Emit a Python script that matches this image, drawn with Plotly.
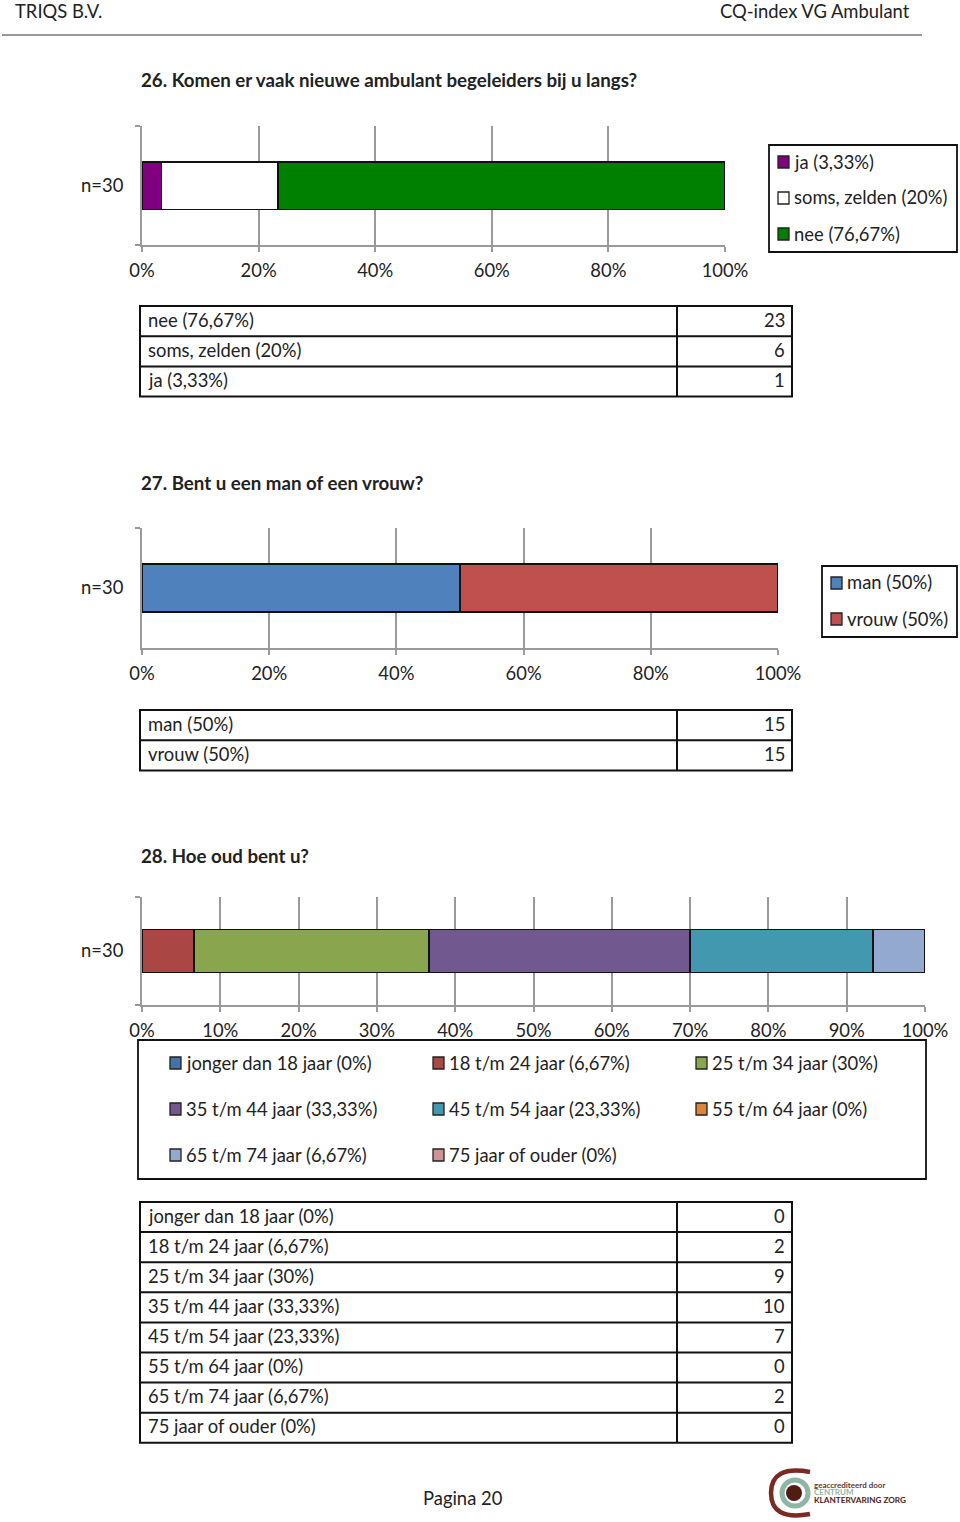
import plotly.graph_objects as go

W, H = 960, 1522
FONT = "Lato"
INK = "#222222"
BASE = 18.4
BOLD = 18.7
GRID = "#9a9a9a"

n_label = "n=30"

q26_title = "26. Komen er vaak nieuwe ambulant begeleiders bij u langs?"
q26_names = ["ja (3,33%)", "soms, zelden (20%)", "nee (76,67%)"]
q26_pct = [3.33, 20, 76.67]
q26_colors = ["#800080", "#ffffff", "#008000"]
q26_table = ["nee (76,67%)", "soms, zelden (20%)", "ja (3,33%)"]
q26_counts = [23, 6, 1]
q26_ticks = [0, 20, 40, 60, 80, 100]

q27_title = "27. Bent u een man of een vrouw?"
q27_names = ["man (50%)", "vrouw (50%)"]
q27_pct = [50, 50]
q27_colors = ["#4f81bd", "#c0504d"]
q27_table = ["man (50%)", "vrouw (50%)"]
q27_counts = [15, 15]
q27_ticks = [0, 20, 40, 60, 80, 100]

q28_title = "28. Hoe oud bent u?"
q28_names = ["jonger dan 18 jaar (0%)", "18 t/m 24 jaar (6,67%)", "25 t/m 34 jaar (30%)",
             "35 t/m 44 jaar (33,33%)", "45 t/m 54 jaar (23,33%)", "55 t/m 64 jaar (0%)",
             "65 t/m 74 jaar (6,67%)", "75 jaar of ouder (0%)"]
q28_pct = [0, 6.67, 30, 33.33, 23.33, 0, 6.67, 0]
q28_colors = ["#4572a7", "#aa4643", "#89a54e", "#71588f", "#4198af", "#db843d", "#93a9cf", "#d19392"]
q28_counts = [0, 2, 9, 10, 7, 0, 2, 0]
q28_ticks = [0, 10, 20, 30, 40, 50, 60, 70, 80, 90, 100]

header_left = "TRIQS B.V."
header_right = "CQ-index VG Ambulant"
footer = "Pagina 20"


def fx(p):
    return p / W


def fy(p):
    return 1 - p / H


fig = go.Figure()
shapes, notes = [], []


def text(x, y, s, size=BASE, anchor="left", bold=False, color=INK):
    notes.append(dict(xref="paper", yref="paper", x=fx(x), y=fy(y), text=f"<b>{s}</b>" if bold else s,
                      showarrow=False, xanchor=anchor, yanchor="middle", align=anchor,
                      font=dict(family=FONT, size=size, color=color), borderpad=0))


def rect(x0, y0, x1, y1, fill="rgba(0,0,0,0)", line="#111111", width=2):
    shapes.append(dict(type="rect", xref="paper", yref="paper", x0=fx(x0), x1=fx(x1), y0=fy(y0), y1=fy(y1),
                       fillcolor=fill, line=dict(color=line, width=width)))


def hline(x0, x1, y, color="#111111", width=1):
    shapes.append(dict(type="line", xref="paper", yref="paper", x0=fx(x0), x1=fx(x1), y0=fy(y), y1=fy(y),
                       line=dict(color=color, width=width)))


def vline(x, y0, y1, color="#111111", width=2):
    shapes.append(dict(type="line", xref="paper", yref="paper", x0=fx(x), x1=fx(x), y0=fy(y0), y1=fy(y1),
                       line=dict(color=color, width=width)))


def chart(idx, names, pct, colors, ticks, x0, x1, y0, y1):
    sx = "" if idx == 1 else str(idx)
    for name, v, c in zip(names, pct, colors):
        fig.add_trace(go.Bar(y=[n_label], x=[v], name=name, orientation="h",
                             marker=dict(color=c, line=dict(color="#111111", width=1.6)),
                             xaxis="x" + sx, yaxis="y" + sx, showlegend=False))
    fig.layout["xaxis" + sx] = dict(domain=[fx(x0), fx(x1)], range=[0, 100], anchor="y" + sx, tickvals=ticks,
                                    ticktext=[f"{t}%" for t in ticks], showgrid=True, gridcolor=GRID, gridwidth=2,
                                    showline=True, linecolor=GRID, linewidth=2, ticks="outside", ticklen=5,
                                    tickcolor=GRID, tickwidth=2, zeroline=False, ticklabelstandoff=3,
                                    tickfont=dict(family=FONT, size=BASE, color=INK), fixedrange=True)
    fig.layout["yaxis" + sx] = dict(domain=[fy(y1), fy(y0)], anchor="x" + sx, type="category", tickson="boundaries",
                                    showline=True, linecolor=GRID, linewidth=2, ticks="outside", ticklen=5,
                                    tickcolor=GRID, tickwidth=2, showgrid=False, ticklabelstandoff=13,
                                    tickfont=dict(family=FONT, size=BASE, color=INK), fixedrange=True)


def legend_box(box, entries, names, colors):
    rect(*box, width=1.8)
    for (sx, sy), name, c in zip(entries, names, colors):
        rect(sx, sy - 6, sx + 11, sy + 6, fill=c, line="#222222", width=1.3)
        text(sx + 15, sy - 0.5, name)


def table(y0, labels, counts, row=30.2):
    y1 = y0 + row * len(labels)
    rect(140, y0, 792, y1)
    vline(677, y0, y1)
    for i, (lab, n) in enumerate(zip(labels, counts)):
        if i:
            hline(140, 792, y0 + row * i, width=2)
        cy = y0 + row * (i + 0.5) - 1.5
        text(147, cy, lab)
        text(786, cy, str(n), anchor="right")


# header / footer
text(14, 11, header_left)
text(911, 11, header_right, anchor="right")
hline(2, 922, 35, color="#333333", width=1.2)
text(463, 1498, footer, anchor="center")

# Q26
text(139.5, 80, q26_title, size=BOLD, bold=True)
chart(1, q26_names, q26_pct, q26_colors, q26_ticks, 142, 725, 126, 245)
legend_box((769, 145, 957, 252), [(778, 162), (778, 198), (778, 234)], q26_names, q26_colors)
table(306, q26_table, q26_counts)

# Q27
text(139.5, 483, q27_title, size=BOLD, bold=True)
chart(2, q27_names, q27_pct, q27_colors, q27_ticks, 142, 778, 528, 648)
legend_box((822, 566, 957, 637), [(831, 583), (831, 619)], q27_names, q27_colors)
table(710, q27_table, q27_counts)

# Q28
text(139.5, 856, q28_title, size=BOLD, bold=True)
chart(3, q28_names, q28_pct, q28_colors, q28_ticks, 142, 925, 897, 1005)
legend_box((138, 1040, 926, 1179),
           [(170, 1063), (433, 1063), (696, 1063), (170, 1109), (433, 1109), (696, 1109), (170, 1155), (433, 1155)],
           q28_names, q28_colors)
table(1202, q28_names, q28_counts, row=30.1)

# logo
shapes.append(dict(type="circle", xref="paper", yref="paper", x0=fx(782), x1=fx(808), y0=fy(1506), y1=fy(1480),
                   line=dict(color="#8fb5a6", width=5), fillcolor="rgba(0,0,0,0)"))
shapes.append(dict(type="circle", xref="paper", yref="paper", x0=fx(786), x1=fx(802), y0=fy(1501), y1=fy(1485),
                   line=dict(width=0), fillcolor="#4f1d14"))
arc = f"M {fx(810)} {fy(1472)} Q {fx(771)} {fy(1465)} {fx(771)} {fy(1493)} Q {fx(771)} {fy(1521)} {fx(810)} {fy(1514)}"
shapes.append(dict(type="path", xref="paper", yref="paper", path=arc, line=dict(color="#7a2a22", width=4.5)))
text(813, 1485, "geaccrediteerd door", size=8, color="#5a3a30", bold=True)
text(813, 1492, "CENTRUM", size=8, color="#8fb5a6", bold=True)
text(813, 1500, "KLANTERVARING ZORG", size=8.2, color="#4f1d14", bold=True)

fig.update_layout(width=W, height=H, margin=dict(l=0, r=0, t=0, b=0, autoexpand=False), paper_bgcolor="white",
                  plot_bgcolor="white", barmode="stack", bargap=0.6, showlegend=False, shapes=shapes, annotations=notes,
                  font=dict(family=FONT, color=INK))
fig.write_html("out.html", post_script="document.body.style.margin='0';", config=dict(displayModeBar=False))
